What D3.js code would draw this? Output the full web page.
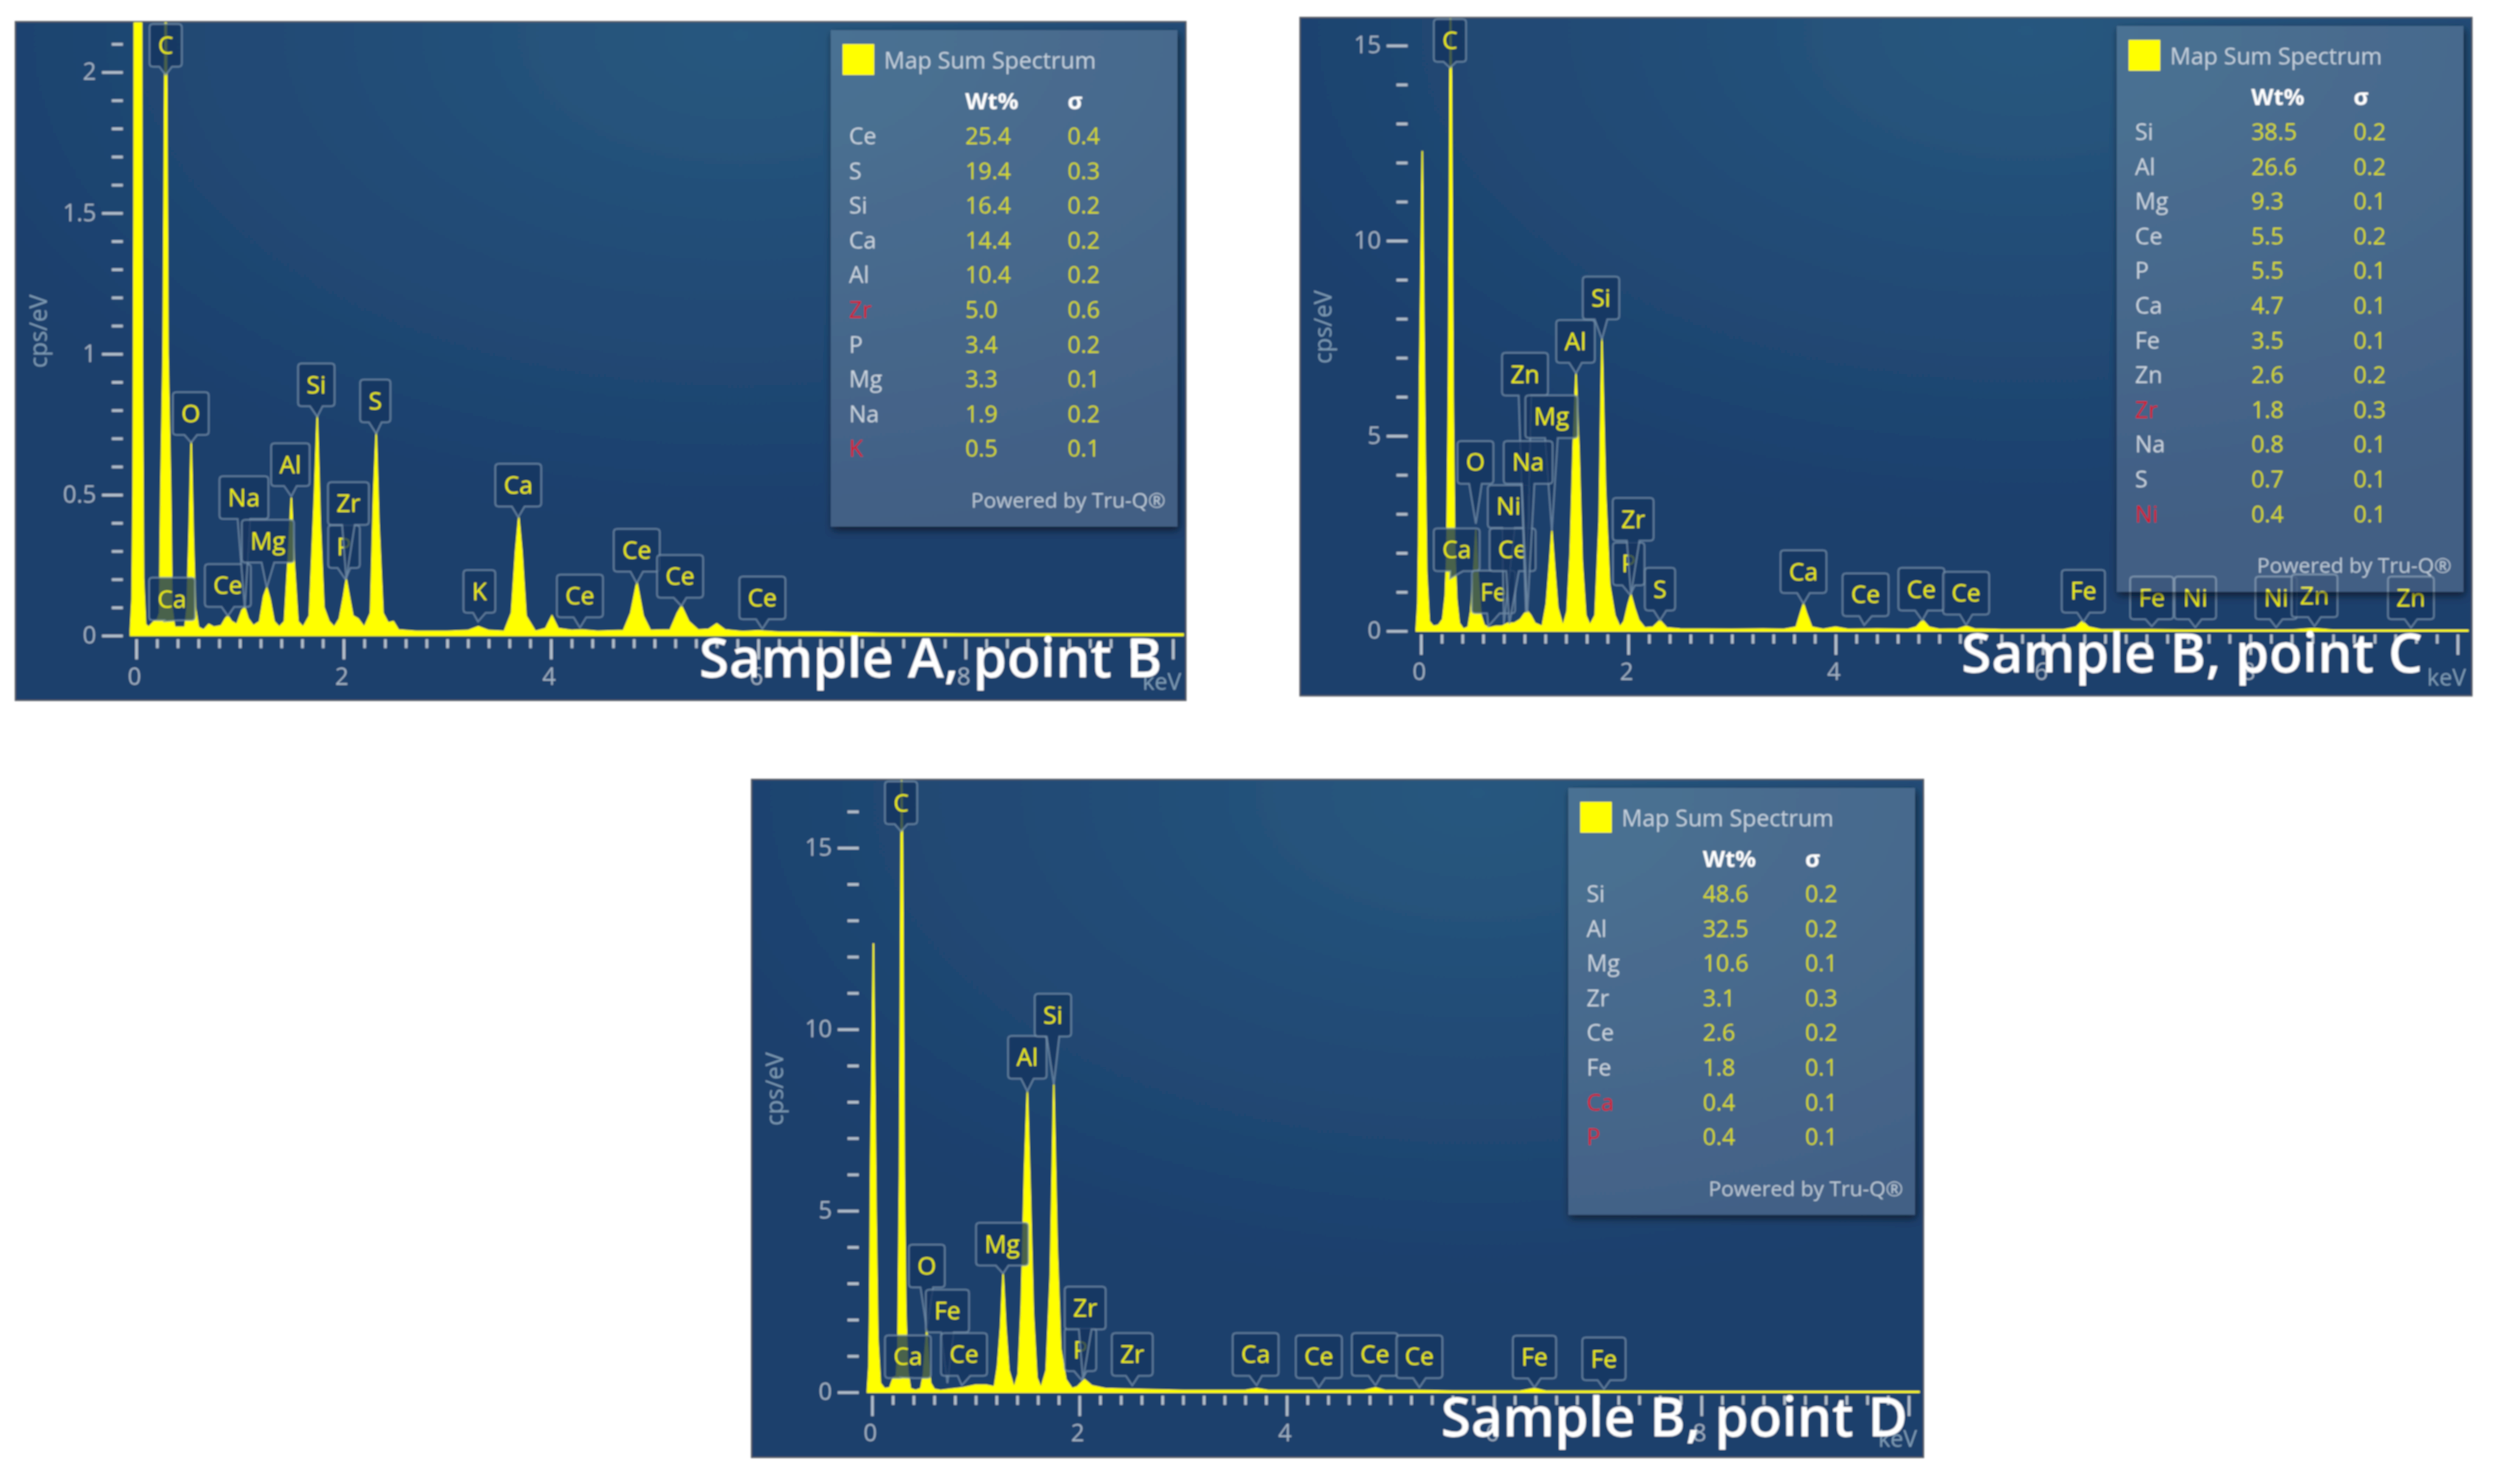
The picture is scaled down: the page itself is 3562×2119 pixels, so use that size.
<!DOCTYPE html>
<html>
<head>
<meta charset="utf-8">
<script src="https://cdn.jsdelivr.net/npm/d3@7"></script>
<style>
  html, body { margin: 0; background: #fff; }
  svg { display: block; font-family: "Open Sans", sans-serif; }
</style>
</head>
<body>
<div id="chart"></div>
<script>
// spectrum A
const energyA = [-0.056,-0.04,-0.03,-0.022,-0.018,0.05,0.058,0.07,0.09,0.12,0.17,0.2,0.225,0.237,0.26,0.276,0.284,0.293,0.306,0.332,0.345,0.37,0.41,0.47,0.49,0.51,0.53,0.55,0.57,0.6,0.65,0.7,0.75,0.82,0.86,0.884,0.92,0.97,1.02,1.047,1.08,1.13,1.19,1.23,1.26,1.29,1.33,1.38,1.43,1.47,1.496,1.525,1.56,1.61,1.67,1.72,1.746,1.775,1.81,1.86,1.91,1.96,2.0,2.026,2.055,2.09,2.14,2.2,2.26,2.29,2.315,2.34,2.38,2.43,2.48,2.53,2.7,3,3.2,3.3,3.4,3.55,3.62,3.66,3.69,3.72,3.76,3.85,3.95,4.01,4.07,4.2,4.3,4.45,4.7,4.77,4.83,4.89,4.96,5.15,5.22,5.26,5.33,5.42,5.52,5.6,5.68,5.85,6,6.2,6.6,7.2,8,10.1];
const countsA = [0.02,0.13,0.5,1.5,2.6,2.6,1.0,0.2,0.04,0.03,0.05,0.055,0.08,0.5,1,2,2.6,2,1,0.5,0.1,0.03,0.03,0.03,0.1,0.35,0.69,0.35,0.1,0.03,0.02,0.04,0.03,0.035,0.06,0.07,0.05,0.04,0.09,0.1,0.06,0.035,0.05,0.14,0.17,0.13,0.05,0.03,0.05,0.3,0.49,0.25,0.05,0.03,0.07,0.5,0.78,0.4,0.1,0.05,0.03,0.06,0.14,0.2,0.14,0.07,0.06,0.03,0.08,0.5,0.72,0.4,0.08,0.045,0.05,0.02,0.015,0.015,0.018,0.032,0.018,0.015,0.08,0.3,0.42,0.3,0.07,0.015,0.025,0.07,0.025,0.018,0.02,0.015,0.018,0.08,0.19,0.07,0.018,0.02,0.08,0.105,0.05,0.02,0.022,0.042,0.02,0.014,0.017,0.012,0.012,0.008,0.006,0.006];
const tagNamesA = ['C','Ca','O','Ce','Na','Mg','Al','Si','P','Zr','S','K','Ca','Ce','Ce','Ce','Ce'];
const tagKevA = [0.284,0.26,0.53,0.884,1.047,1.259,1.496,1.746,2.017,2.026,2.315,3.297,3.685,4.28,4.828,5.259,6.04];
const tagPeakA = [1.99,0.05,0.685,0.07,0.097,0.17,0.494,0.777,0.2,0.202,0.717,0.05,0.42,0.028,0.186,0.105,0.024];
const tagBoxKevA = [0.284,0.345,0.526,0.884,1.039,1.27,1.487,1.737,2.004,2.047,2.306,3.31,3.685,4.28,4.828,5.246,6.04];
const tagBoxCpsA = [2.095,0.13,0.788,0.178,0.49,0.335,0.607,0.89,0.316,0.469,0.833,0.157,0.534,0.141,0.303,0.21,0.134];
const elementsA = ['Ce','S','Si','Ca','Al','Zr','P','Mg','Na','K'];
const wtA = ['25.4','19.4','16.4','14.4','10.4','5.0','3.4','3.3','1.9','0.5'];
const sigmaA = ['0.4','0.3','0.2','0.2','0.2','0.6','0.2','0.1','0.2','0.1'];
const flaggedA = ['Zr','K'];

// spectrum B
const energyB = [-0.045,-0.03,-0.022,-0.012,0.0,0.013,0.024,0.038,0.055,0.08,0.12,0.17,0.21,0.235,0.25,0.266,0.276,0.28,0.284,0.294,0.31,0.325,0.345,0.37,0.41,0.455,0.48,0.505,0.53,0.555,0.58,0.61,0.66,0.72,0.78,0.84,0.9,0.96,1.0,1.03,1.06,1.1,1.17,1.21,1.24,1.263,1.29,1.32,1.37,1.41,1.44,1.47,1.496,1.525,1.555,1.59,1.63,1.68,1.72,1.746,1.78,1.82,1.87,1.92,1.96,2.0,2.026,2.06,2.1,2.16,2.24,2.306,2.37,2.5,3,3.3,3.5,3.62,3.66,3.69,3.72,3.77,3.88,4.0,4.12,4.4,4.7,4.78,4.84,4.9,5.0,5.18,5.26,5.34,5.6,6.2,6.32,6.38,6.44,6.56,7.05,7.4,8.4,8.55,8.61,8.67,8.8,10.1];
const countsB = [0.05,0.7,2.2,6.5,9,12.3,9,5,1.5,0.25,0.12,0.15,0.3,0.9,2,6,11,14,16.5,14,6,2.2,0.8,0.2,0.05,0.1,0.5,1.4,2.6,1.3,0.4,0.15,0.08,0.12,0.12,0.2,0.2,0.3,0.45,0.5,0.4,0.2,0.12,0.7,1.7,2.57,1.6,0.6,0.12,0.5,2,4.8,6.6,4.6,1.8,0.4,0.15,0.4,2.8,7.5,3.6,1.2,0.4,0.1,0.25,0.7,0.93,0.6,0.28,0.08,0.1,0.27,0.08,0.05,0.04,0.05,0.04,0.1,0.45,0.7,0.45,0.1,0.04,0.1,0.04,0.05,0.04,0.1,0.28,0.1,0.04,0.05,0.12,0.05,0.03,0.03,0.1,0.25,0.1,0.03,0.03,0.02,0.02,0.05,0.06,0.05,0.02,0.02];
const tagNamesB = ['C','Ca','O','Fe','Ni','Ce','Zn','Mg','Na','Al','Si','P','Zr','S','Ca','Ce','Ce','Ce','Fe','Fe','Ni','Ni','Zn','Zn'];
const tagKevB = [0.28,0.28,0.53,0.65,0.8,0.853,1.013,1.263,1.026,1.496,1.746,2.017,2.026,2.306,3.69,4.276,4.836,5.259,6.39,7.05,7.47,8.25,8.62,9.55];
const tagPeakB = [14.43,1.34,2.75,0.12,0.18,0.18,0.47,2.57,0.47,6.6,7.48,0.93,0.93,0.27,0.7,0.15,0.27,0.15,0.23,0.12,0.09,0.09,0.12,0.08];
const tagBoxKevB = [0.28,0.345,0.526,0.7,0.845,0.884,1.004,1.259,1.034,1.491,1.737,2.004,2.047,2.306,3.69,4.289,4.828,5.259,6.39,7.05,7.47,8.25,8.62,9.55];
const tagBoxCpsB = [15.13,2.08,4.32,1.0,3.19,2.08,6.58,5.49,4.32,7.42,8.53,1.72,2.86,1.07,1.52,0.93,1.07,0.97,1.02,0.85,0.85,0.85,0.9,0.85];
const elementsB = ['Si','Al','Mg','Ce','P','Ca','Fe','Zn','Zr','Na','S','Ni'];
const wtB = ['38.5','26.6','9.3','5.5','5.5','4.7','3.5','2.6','1.8','0.8','0.7','0.4'];
const sigmaB = ['0.2','0.2','0.1','0.2','0.1','0.1','0.1','0.2','0.3','0.1','0.1','0.1'];
const flaggedB = ['Zr','Ni'];

// spectrum C (Sample B, point D)
const energyC = [-0.045,-0.03,-0.022,-0.012,0.0,0.013,0.024,0.038,0.055,0.08,0.12,0.17,0.205,0.235,0.25,0.266,0.276,0.28,0.284,0.294,0.31,0.325,0.345,0.37,0.42,0.47,0.495,0.51,0.528,0.545,0.565,0.6,0.66,0.75,0.87,1.0,1.1,1.18,1.21,1.24,1.264,1.29,1.32,1.37,1.41,1.44,1.47,1.498,1.525,1.555,1.59,1.63,1.68,1.72,1.753,1.785,1.82,1.87,1.93,1.98,2.05,2.12,2.25,2.5,3,3.6,3.71,3.82,4.3,4.75,4.857,4.95,5.28,5.6,6.25,6.39,6.5,7.06,8,10.1];
const countsC = [0.05,0.7,2.2,6.5,9,12.37,9,5,1.5,0.25,0.1,0.12,0.4,0.45,1.3,6,12,15,17.5,15,6,2.2,0.6,0.1,0.05,0.1,0.5,1.1,1.76,0.9,0.25,0.08,0.05,0.08,0.12,0.2,0.2,0.15,0.7,1.8,3.27,1.8,0.6,0.12,0.5,2.4,6,8.29,5.6,2.2,0.4,0.12,0.6,3.2,8.48,4,1.2,0.35,0.1,0.15,0.35,0.18,0.1,0.08,0.05,0.05,0.1,0.05,0.05,0.05,0.12,0.05,0.05,0.03,0.03,0.1,0.03,0.03,0.02,0.02];
const tagNamesC = ['C','Ca','O','Fe','Ce','Mg','Al','Si','P','Zr','Zr','Ca','Ce','Ce','Ce','Fe','Fe'];
const tagKevC = [0.28,0.26,0.528,0.727,0.866,1.264,1.498,1.753,2.02,2.035,2.51,3.71,4.31,4.857,5.28,6.39,7.06];
const tagPeakC = [15.45,0.41,1.76,0.25,0.19,3.27,8.29,8.48,0.34,0.34,0.19,0.19,0.13,0.19,0.13,0.13,0.09];
const tagBoxKevC = [0.28,0.346,0.528,0.727,0.887,1.255,1.498,1.745,2.01,2.056,2.51,3.7,4.31,4.85,5.28,6.39,7.06];
const tagBoxCpsC = [16.24,0.98,3.48,2.24,1.04,4.08,9.23,10.39,1.17,2.32,1.04,1.04,0.98,1.04,0.98,0.97,0.92];
const elementsC = ['Si','Al','Mg','Zr','Ce','Fe','Ca','P'];
const wtC = ['48.6','32.5','10.6','3.1','2.6','1.8','0.4','0.4'];
const sigmaC = ['0.2','0.2','0.1','0.3','0.2','0.1','0.1','0.1'];
const flaggedC = ['Ca','P'];

const xMajorTicks = [0, 2, 4, 6, 8];
const yMajorA = [0, 0.5, 1, 1.5, 2];
const yMajorB = [0, 5, 10, 15];
const yMajorC = [0, 5, 10, 15];

const W = 3562;
const H = 2119;
const KEV_PX = 148;

const panels = [
  { box: [22, 31, 1693, 1000], x0: 194.5, yBase: 907.6, refVal: 2, refY: 103, yStep: 0.1, yTop: 2.1, yMajor: yMajorA,
    energy: energyA, counts: countsA, tagNames: tagNamesA, tagKev: tagKevA, tagPeak: tagPeakA, tagBoxKev: tagBoxKevA, tagBoxCps: tagBoxCpsA,
    elements: elementsA, wt: wtA, sigma: sigmaA, flagged: flaggedA, title: 'Sample A, point B', titleX: 998, titleY: 967 },
  { box: [1856, 25, 3529, 993.5], x0: 2028.6, yBase: 901, refVal: 15, refY: 65, yStep: 1, yTop: 15, yMajor: yMajorB,
    energy: energyB, counts: countsB, tagNames: tagNamesB, tagKev: tagKevB, tagPeak: tagPeakB, tagBoxKev: tagBoxKevB, tagBoxCps: tagBoxCpsB,
    elements: elementsB, wt: wtB, sigma: sigmaB, flagged: flaggedB, title: 'Sample B, point C', titleX: 2800, titleY: 960 },
  { box: [1073, 1113, 2746, 2081], x0: 1245, yBase: 1988, refVal: 15, refY: 1210.6, yStep: 1, yTop: 16, yMajor: yMajorC,
    energy: energyC, counts: countsC, tagNames: tagNamesC, tagKev: tagKevC, tagPeak: tagPeakC, tagBoxKev: tagBoxKevC, tagBoxCps: tagBoxCpsC,
    elements: elementsC, wt: wtC, sigma: sigmaC, flagged: flaggedC, title: 'Sample B, point D', titleX: 2057, titleY: 2051 },
];

const svg = d3.select('#chart').append('svg').attr('width', W).attr('height', H);
const defs = svg.append('defs');

const bg = defs.append('radialGradient').attr('id', 'panelBg')
  .attr('cx', 0.62).attr('cy', 0.02).attr('r', 0.75);
bg.append('stop').attr('offset', 0).attr('stop-color', '#28587f');
bg.append('stop').attr('offset', 0.55).attr('stop-color', '#214a75');
bg.append('stop').attr('offset', 1).attr('stop-color', '#1d3f6c');

// shadow drawn only outside the translucent legend box
const shadow = defs.append('filter').attr('id', 'outerShadow')
  .attr('x', '-5%').attr('y', '-5%').attr('width', '110%').attr('height', '110%');
shadow.append('feGaussianBlur').attr('in', 'SourceAlpha').attr('stdDeviation', 6).attr('result', 'blur');
shadow.append('feOffset').attr('in', 'blur').attr('dx', 2).attr('dy', 5).attr('result', 'moved');
shadow.append('feComposite').attr('in', 'moved').attr('in2', 'SourceAlpha').attr('operator', 'out');

// the reference is an upscaled screenshot, so everything is slightly soft
defs.append('filter').attr('id', 'soft')
  .attr('filterUnits', 'userSpaceOnUse').attr('x', 0).attr('y', 0).attr('width', W).attr('height', H)
  .append('feGaussianBlur').attr('stdDeviation', 1.1);

function tagPath(cx, cy, w, h, tipX, tipY) {
  const l = cx - w / 2;
  const r = cx + w / 2;
  const t = cy - h / 2;
  const b = cy + h / 2;
  const c = 5;
  return `M${l + c},${t}L${r - c},${t}Q${r},${t} ${r},${t + c}L${r},${b - c}Q${r},${b} ${r - c},${b}`
    + `L${cx + 9},${b}L${tipX},${tipY}L${cx - 9},${b}`
    + `L${l + c},${b}Q${l},${b} ${l},${b - c}L${l},${t + c}Q${l},${t} ${l + c},${t}Z`;
}

function drawLegend(g, p) {
  const right = p.box[2];
  const left = right - 507;
  const top = p.box[1] + 12;
  const height = 709 + (p.elements.length - 10) * 49.6;

  g.append('rect').attr('x', left).attr('y', top).attr('width', 495).attr('height', height)
    .attr('fill', '#000').attr('opacity', 0.55).attr('filter', 'url(#outerShadow)');
  g.append('rect').attr('x', left).attr('y', top).attr('width', 495).attr('height', height)
    .attr('fill', '#fff').attr('fill-opacity', 0.17);

  g.append('rect').attr('x', left + 17).attr('y', top + 20).attr('width', 45).attr('height', 44)
    .attr('fill', '#ffff00');
  g.append('text').attr('x', left + 76).attr('y', top + 55).attr('fill', '#c6d2de')
    .style('font-size', '33px').text('Map Sum Spectrum');
  g.append('text').attr('x', left + 192).attr('y', top + 113).attr('fill', '#fff')
    .style('font-size', '33px').style('font-weight', 700).text('Wt%');
  g.append('text').attr('x', left + 338).attr('y', top + 113).attr('fill', '#fff')
    .style('font-size', '33px').style('font-weight', 700).text('σ');

  const rows = g.selectAll('g.row').data(p.elements).enter().append('g').attr('class', 'row')
    .attr('transform', (d, i) => `translate(${left},${top + 163 + i * 49.6})`)
    .style('font-size', '33px');
  rows.append('text').attr('x', 26)
    .attr('fill', (d) => (p.flagged.includes(d) ? '#d8172c' : '#ccd6e0')).text((d) => d);
  rows.append('text').attr('x', 192).attr('fill', '#d9dc12').text((d, i) => p.wt[i]);
  rows.append('text').attr('x', 338).attr('fill', '#d9dc12').text((d, i) => p.sigma[i]);

  g.append('text').attr('x', left + 478).attr('y', top + height - 27)
    .attr('text-anchor', 'end').attr('fill', '#bcc9d6')
    .style('font-size', '30px').text('Powered by Tru-Q®');
}

function drawPanel(p, idx) {
  const [bx0, by0, bx1, by1] = p.box;
  const g = svg.append('g').attr('filter', 'url(#soft)');
  const x = d3.scaleLinear().domain([0, 10]).range([p.x0, p.x0 + KEV_PX * 10]);
  const y = d3.scaleLinear().domain([0, p.refVal]).range([p.yBase, p.refY]);

  g.append('rect').attr('x', bx0).attr('y', by0).attr('width', bx1 - bx0).attr('height', by1 - by0)
    .attr('fill', 'url(#panelBg)').attr('stroke', '#5a5f66').attr('stroke-width', 2);

  defs.append('clipPath').attr('id', `clip${idx}`).append('rect')
    .attr('x', bx0).attr('y', by0 + 1).attr('width', bx1 - bx0 - 2).attr('height', by1 - by0);

  // axes
  const xAxis = d3.axisBottom(x)
    .tickValues(d3.range(0, 51).map((d) => d / 5))
    .tickSize(13)
    .tickPadding(14)
    .tickFormat((d) => (xMajorTicks.includes(d) ? d : ''));
  const xg = g.append('g').attr('transform', `translate(0,${p.yBase + 5})`).call(xAxis);
  xg.select('.domain').remove();
  xg.selectAll('.tick line')
    .attr('stroke', '#b4c0cc').attr('stroke-width', 4)
    .attr('y2', (d) => (Math.round(d * 5) % 10 === 0 ? 29 : 13));
  xg.selectAll('.tick text')
    .attr('y', 41).attr('dy', '0.71em').attr('dx', -3)
    .attr('fill', '#a3b2c3').style('font-size', '34px').style('font-family', '"Open Sans", sans-serif');

  const yCount = Math.round(p.yTop / p.yStep);
  const yAxis = d3.axisLeft(y)
    .tickValues(d3.range(0, yCount + 1).map((i) => +(i * p.yStep).toFixed(2)))
    .tickSize(16)
    .tickPadding(38)
    .tickFormat((d) => (p.yMajor.includes(d) ? d : ''));
  const yg = g.append('g').attr('transform', `translate(${p.x0 - 19},0)`).call(yAxis);
  yg.select('.domain').remove();
  yg.selectAll('.tick line')
    .attr('stroke', '#b4c0cc').attr('stroke-width', 4)
    .attr('x2', (d) => (p.yMajor.includes(d) ? -30 : -16));
  yg.selectAll('.tick text')
    .attr('x', -38)
    .attr('fill', '#a3b2c3').style('font-size', '34px').style('font-family', '"Open Sans", sans-serif');

  g.append('text')
    .attr('transform', `translate(${bx0 + 45},${by0 + 442}) rotate(-90)`)
    .attr('text-anchor', 'middle').attr('fill', '#7f9db6')
    .style('font-size', '34px').text('cps/eV');
  g.append('text').attr('x', p.x0 + KEV_PX * 10 + 12).attr('y', by1 - 15)
    .attr('text-anchor', 'end').attr('fill', '#7f9db6')
    .style('font-size', '33px').text('keV');

  // spectrum
  const points = p.energy.map((e, i) => [e, p.counts[i]]);
  const area = d3.area().x((d) => x(d[0])).y0(y(0)).y1((d) => y(d[1]));
  g.append('path').datum(points).attr('clip-path', `url(#clip${idx})`)
    .attr('d', area).attr('fill', '#ffff00').attr('stroke', '#ffff00').attr('stroke-width', 2);

  // peak tags sit on top of the spectrum
  const tags = g.selectAll('g.tag').data(p.tagNames).enter().append('g').attr('class', 'tag');
  tags.append('text')
    .attr('x', (d, i) => x(p.tagBoxKev[i]))
    .attr('y', (d, i) => y(p.tagBoxCps[i]))
    .attr('dy', '0.35em').attr('text-anchor', 'middle')
    .attr('fill', '#f0f000').style('font-size', '35px').text((d) => d);
  tags.insert('path', 'text')
    .attr('d', function (d, i) {
      const w = this.parentNode.querySelector('text').getComputedTextLength() + 24;
      return tagPath(x(p.tagBoxKev[i]), y(p.tagBoxCps[i]), w, 61, x(p.tagKev[i]), y(p.tagPeak[i]));
    })
    .attr('fill', '#173660').attr('fill-opacity', 0.78)
    .attr('stroke', '#7d98b0').attr('stroke-opacity', 0.7).attr('stroke-width', 2.5);

  drawLegend(g, p);

  g.append('text').attr('x', p.titleX).attr('y', p.titleY).attr('fill', '#fff')
    .style('font-size', '78px').style('font-weight', 600).text(p.title);
}

panels.forEach(drawPanel);
</script>
</body>
</html>
